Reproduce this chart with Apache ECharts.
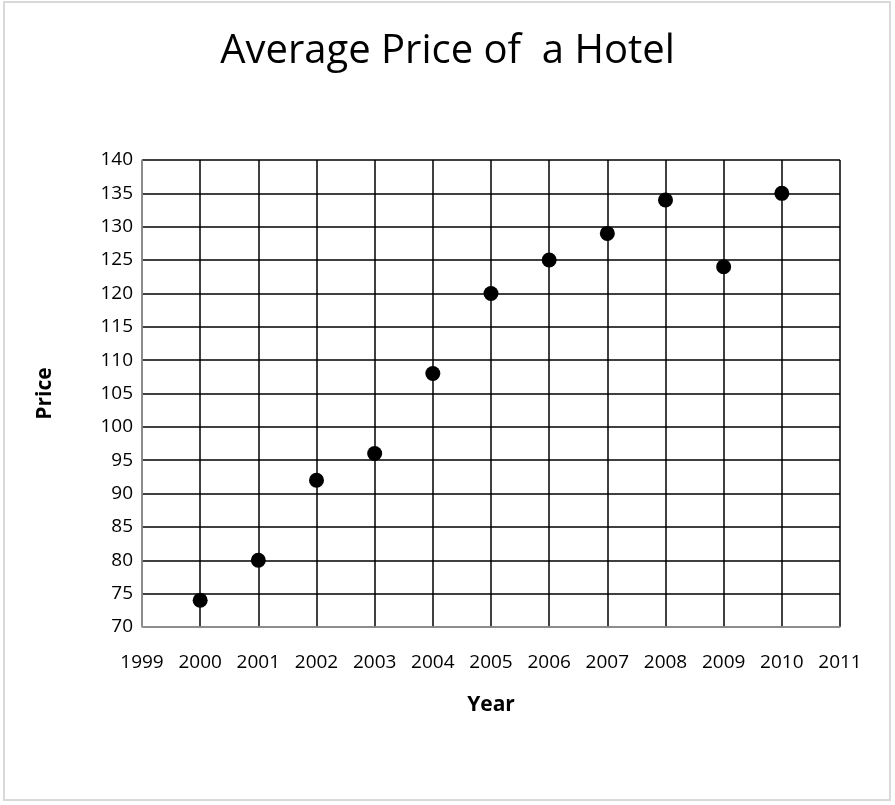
<!DOCTYPE html>
<html>
<head>
<meta charset="utf-8">
<script src="https://cdn.jsdelivr.net/npm/echarts@6/dist/echarts.min.js"></script>
<style>
  html, body { margin: 0; padding: 0; background: #fff; }
  #main { width: 895px; height: 805px; }
</style>
</head>
<body>
<div id="main"></div>
<script>
// 数据
const years = [2000, 2001, 2002, 2003, 2004, 2005, 2006, 2007, 2008, 2009, 2010];
const prices = [74, 80, 92, 96, 108, 120, 125, 129, 134, 124, 135];

const chart = echarts.init(document.getElementById('main'));
const font = '"Open Sans", "Liberation Sans", sans-serif';

const option = {
  backgroundColor: '#fff',
  animation: false,
  title: {
    text: 'Average Price of  a Hotel',
    left: 'center',
    top: 27,
    textStyle: { fontFamily: font, fontSize: 40, fontWeight: 'normal', color: '#000' }
  },
  grid: { left: 142, top: 160, width: 698, height: 467 },
  graphic: [{
    type: 'rect',
    shape: { x: 4, y: 2, width: 886, height: 798 },
    style: { fill: 'none', stroke: '#d9d9d9', lineWidth: 2 },
    silent: true
  }],
  xAxis: {
    type: 'value',
    min: 1999, max: 2011, interval: 1,
    name: 'Year',
    nameLocation: 'middle',
    nameGap: 68,
    nameTextStyle: { fontFamily: font, fontSize: 21, fontWeight: 'bold', color: '#000' },
    axisLine: { show: true, lineStyle: { color: '#a6a6a6', width: 1.5 } },
    axisTick: { show: false },
    axisLabel: { fontFamily: font, fontSize: 19, color: '#000', margin: 26, formatter: v => String(v) },
    splitLine: { show: true, lineStyle: { color: '#000', width: 1.5 } }
  },
  yAxis: {
    type: 'value',
    min: 70, max: 140, interval: 5,
    name: 'Price',
    nameLocation: 'middle',
    nameGap: 86,
    nameTextStyle: { fontFamily: font, fontSize: 21, fontWeight: 'bold', color: '#000' },
    axisLine: { show: true, lineStyle: { color: '#a6a6a6', width: 1.5 } },
    axisTick: { show: false },
    axisLabel: { fontFamily: font, fontSize: 19, color: '#000', margin: 9 },
    splitLine: { show: true, lineStyle: { color: '#000', width: 1.5 } }
  },
  series: [{
    type: 'scatter',
    data: years.map((y, i) => [y, prices[i]]),
    symbol: 'circle',
    symbolSize: 15,
    itemStyle: { color: '#000', opacity: 1 }
  }]
};
chart.setOption(option);
</script>
</body>
</html>
